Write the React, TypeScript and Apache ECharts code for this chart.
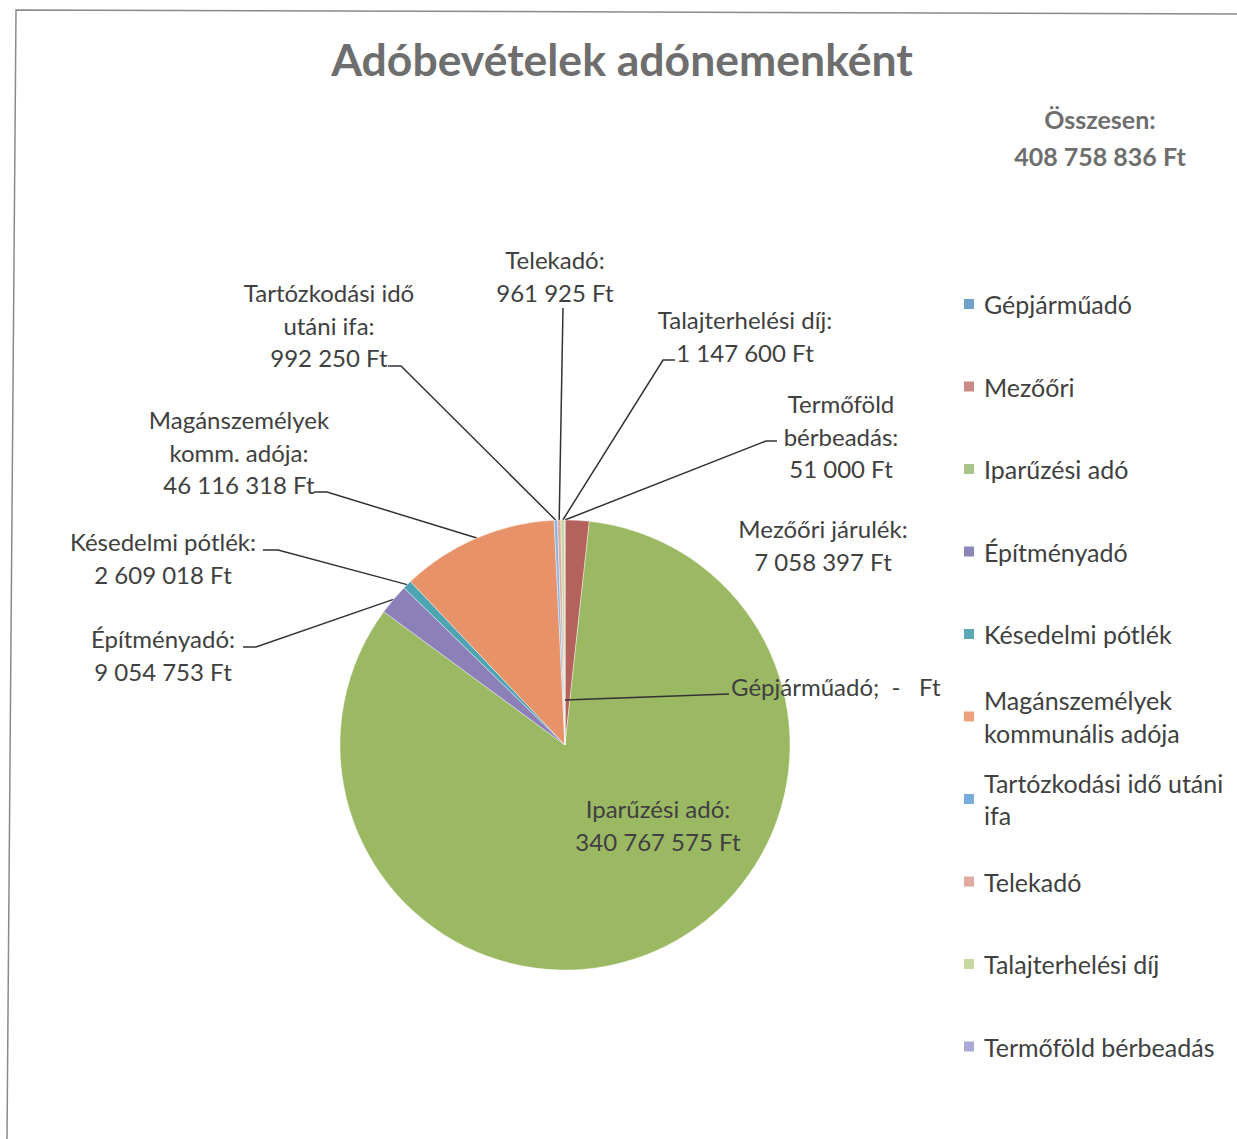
import React, { useEffect, useRef } from 'react';
import * as echarts from 'echarts';

// ---- data ----
const TITLE = 'Adóbevételek adónemenként';
const TOTAL_LABEL = 'Összesen:';
const categories = [
  'Gépjárműadó',
  'Mezőőri',
  'Iparűzési adó',
  'Építményadó',
  'Késedelmi pótlék',
  'Magánszemélyek kommunális adója',
  'Tartózkodási idő utáni ifa',
  'Telekadó',
  'Talajterhelési díj',
  'Termőföld bérbeadás',
];
const legendLabels = [
  'Gépjárműadó',
  'Mezőőri',
  'Iparűzési adó',
  'Építményadó',
  'Késedelmi pótlék',
  'Magánszemélyek\nkommunális adója',
  'Tartózkodási idő utáni\nifa',
  'Telekadó',
  'Talajterhelési díj',
  'Termőföld bérbeadás',
];
const sliceLabels = [
  'Gépjárműadó',
  'Mezőőri járulék',
  'Iparűzési adó',
  'Építményadó',
  'Késedelmi pótlék',
  'Magánszemélyek\nkomm. adója',
  'Tartózkodási idő\nutáni ifa',
  'Telekadó',
  'Talajterhelési díj',
  'Termőföld\nbérbeadás',
];
const values = [0, 7058397, 340767575, 9054753, 2609018, 46116318, 992250, 961925, 1147600, 51000];

// ---- style / layout ----
const sliceColors = ['#5B8EC2', '#B5625D', '#9BB862', '#8C80B8', '#4DA5B3', '#E8926A', '#8CB4E0', '#E0A8A0', '#C6D89E', '#B0AAD8'];
const legendColors = ['#6FA0C8', '#C98A86', '#A9C48A', '#8A86B8', '#5CA8B4', '#F0A07A', '#7AABDF', '#E2A9A0', '#C8D9A0', '#A9A9D6'];
const FONT = 'Lato, "Noto Sans", sans-serif';
const CX = 565;
const CY = 745;
const R = 225;
const LH = 32.5;
const LABEL_SIZE = 24;
const LEGEND_SIZE = 25;
const LEG_X = 962;
const LEG_TOP = 304;
const LEG_STEP = 82.5;
const ZERO_INNER = 0.2;

type LabelPlace = { x: number; y: number; align: string; line?: number[][] };
const labelPlaces: LabelPlace[] = [
  { x: 731, y: 686, align: 'left', line: [[729, 694], [729, 694]] },
  { x: 823, y: 545, align: 'center' },
  { x: 658, y: 825, align: 'center' },
  { x: 163, y: 655, align: 'center', line: [[256, 647], [243, 647]] },
  { x: 163, y: 558, align: 'center', line: [[278, 550], [263, 550]] },
  { x: 239, y: 452, align: 'center', line: [[327, 492], [314, 492]] },
  { x: 329, y: 325, align: 'center', line: [[401, 366], [388, 366]] },
  { x: 555, y: 276, align: 'center', line: [[563, 308], [563, 308]] },
  { x: 745, y: 336, align: 'center', line: [[663, 360], [675, 360]] },
  { x: 841, y: 436, align: 'center', line: [[766, 441], [777, 441]] },
];

const fmt = (v: number) => (v === 0 ? '-' : String(v).replace(/\B(?=(\d{3})+(?!\d))/g, ' '));
const total = values.reduce((a, b) => a + b, 0);

export default function App() {
  const ref = useRef<HTMLDivElement>(null);
  useEffect(() => {
    if (!ref.current) return;
    const chart = echarts.init(ref.current, undefined, { renderer: 'svg' });

    // leader line of the zero-valued slice (its sector has no arc, so draw it from the slice's start direction)
    const zeroIdx = values.indexOf(0);
    const zeroGraphics: any[] = [];
    if (zeroIdx >= 0) {
      let before = 0;
      for (let k = 0; k < zeroIdx; k++) before += values[k];
      const ang = (before / total) * Math.PI * 2; // clockwise from 12 o'clock
      const sx = CX + Math.sin(ang) * R * ZERO_INNER;
      const sy = CY - Math.cos(ang) * R * ZERO_INNER;
      const end = labelPlaces[zeroIdx].line![1];
      zeroGraphics.push({
        type: 'line',
        silent: true,
        shape: { x1: sx, y1: sy, x2: end[0], y2: end[1] },
        style: { stroke: '#333333', lineWidth: 1.5 },
        z: 10,
      });
    }

    const option: any = {
      animation: false,
      backgroundColor: '#ffffff',
      title: [
        {
          text: TITLE,
          left: 622,
          top: 34,
          textAlign: 'center',
          padding: 0,
          textStyle: { fontFamily: FONT, fontSize: 44.5, fontWeight: 'bold', color: '#6E6E6E', lineHeight: 48 },
        },
        {
          text: `${TOTAL_LABEL}\n${fmt(total)} Ft`,
          left: 1100,
          top: 100,
          textAlign: 'center',
          padding: 0,
          textStyle: { fontFamily: FONT, fontSize: 25, fontWeight: 'bold', color: '#6E6E6E', lineHeight: 37 },
        },
      ],
      legend: categories.map((c, i) => {
        const multi = legendLabels[i].includes('\n');
        const cy = LEG_TOP + i * LEG_STEP;
        return {
          orient: 'vertical',
          left: LEG_X,
          top: multi ? cy - 1.5 * LH : cy - LH / 2,
          padding: 0,
          icon: 'rect',
          itemWidth: 12,
          itemHeight: 12,
          selectedMode: false,
          data: [{ name: c, itemStyle: { color: legendColors[i] } }],
          formatter: () => legendLabels[i],
          textStyle: {
            fontFamily: FONT,
            fontSize: LEGEND_SIZE,
            lineHeight: LH,
            color: '#404040',
            padding: multi ? [LH, 0, 0, 4] : [0, 0, 0, 4],
          },
        };
      }),
      graphic: [
        {
          type: 'polyline',
          shape: { points: [[1237, 14], [16, 10], [7, 1139]] },
          style: { stroke: '#8a8a8a', lineWidth: 1.5, fill: 'none' },
          silent: true,
        },
        ...zeroGraphics,
      ],
      series: [
        {
          type: 'pie',
          center: [CX, CY],
          radius: R,
          startAngle: 90,
          clockwise: true,
          avoidLabelOverlap: false,
          silent: true,
          emphasis: { disabled: true },
          itemStyle: { borderColor: '#ffffff', borderWidth: 0.4 },
          data: categories.map((c, i) => ({
            name: c,
            value: values[i],
            itemStyle: { color: sliceColors[i] },
            labelLine: { show: !!labelPlaces[i].line && values[i] !== 0 },
          })),
          label: {
            show: true,
            position: 'outside',
            fontFamily: FONT,
            fontSize: LABEL_SIZE,
            lineHeight: LH,
            color: '#404040',
            formatter: (p: any) => {
              const i = p.dataIndex;
              if (values[i] === 0) return `${sliceLabels[i]};  -   Ft`;
              return `${sliceLabels[i]}:\n${fmt(values[i])} Ft`;
            },
          },
          labelLine: { show: true, length: 10, length2: 10, lineStyle: { color: '#333333', width: 1.5 } },
          labelLayout: (params: any) => {
            const i = params.dataIndex;
            const L = labelPlaces[i];
            const res: any = { x: L.x, y: L.y, align: L.align, verticalAlign: 'middle' };
            if (L.line && values[i] !== 0 && params.labelLinePoints) {
              const start = params.labelLinePoints[0];
              res.labelLinePoints = [start, L.line[0], L.line[1]];
            }
            return res;
          },
        },
      ],
    };
    chart.setOption(option);
    return () => chart.dispose();
  }, []);
  return <div ref={ref} style={{ position: 'fixed', left: 0, top: 0, width: 1237, height: 1139 }} />;
}
